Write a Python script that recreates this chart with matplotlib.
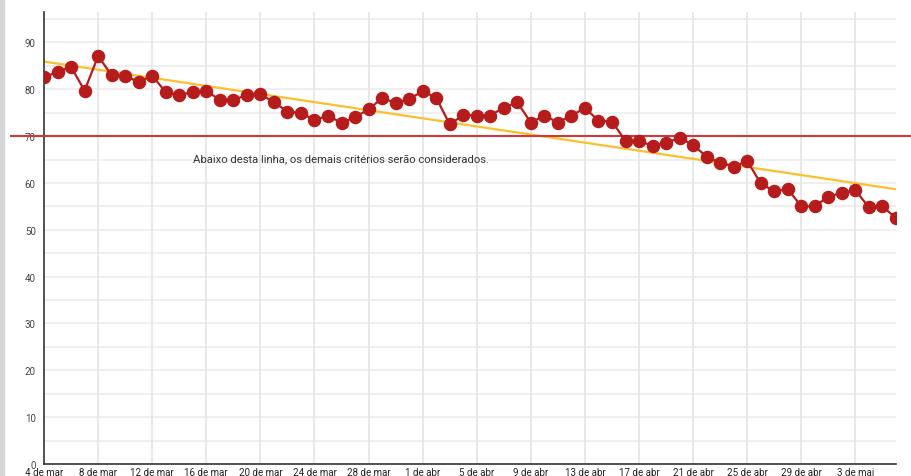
import numpy as np
import pandas as pd
import matplotlib
matplotlib.use("Agg")
import matplotlib.pyplot as plt
from matplotlib.patches import Rectangle

plt.rcParams["font.family"] = ["Roboto", "DejaVu Sans"]

# daily values, 4 de mar .. 6 de mai
dates = pd.date_range("2020-03-04", "2020-05-06", freq="D")
values = [
    82.6, 83.7, 84.8, 79.7, 87.1, 83.0, 82.8, 81.6, 82.9, 79.4,
    78.8, 79.4, 79.7, 77.7, 77.7, 78.8, 78.9, 77.3, 75.2, 75.0,
    73.4, 74.4, 72.8, 74.1, 75.7, 78.1, 77.1, 77.9, 79.6, 78.2,
    72.5, 74.5, 74.4, 74.4, 76.1, 77.2, 72.9, 74.4, 72.9, 74.4,
    76.0, 73.3, 73.1, 69.0, 69.0, 67.9, 68.6, 69.6, 68.1, 65.6,
    64.3, 63.5, 64.7, 59.9, 58.2, 58.7, 55.0, 55.0, 57.1, 57.9,
    58.4, 54.8, 55.0, 52.5,
]
tick_labels = [
    "4 de mar", "8 de mar", "12 de mar", "16 de mar", "20 de mar",
    "24 de mar", "28 de mar", "1 de abr", "5 de abr", "9 de abr",
    "13 de abr", "17 de abr", "21 de abr", "25 de abr", "29 de abr",
    "3 de mai",
]
threshold = 70
note = "Abaixo desta linha, os demais critérios serão considerados."

values = np.array(values)
xs = np.arange(len(dates))
ticks = xs[::4]

fig = plt.figure(figsize=(9.11, 4.77), dpi=100)
fig.patches.append(Rectangle((0, 0), 4 / 911, 1, transform=fig.transFigure,
                             color="#d6d6d6", zorder=0))
ax = fig.add_axes([44 / 911, 12 / 477, 852 / 911, 452 / 477])

# grid
for y in range(5, 100, 5):
    ax.axhline(y, color="#ebebeb", lw=1.1, zorder=0)
for t in ticks[1:]:
    ax.axvline(t, color="#e2e2e2", lw=1.1, zorder=0)

# trend (linear fit)
k, b = np.polyfit(xs, values, 1)
ax.plot(xs, k * xs + b, color="#fbc02d", lw=1.6, zorder=2)

# threshold line, runs past the plot area
ax.axhline(threshold, xmin=-33 / 852, xmax=1.02, color="#d0393b", lw=1.5,
           clip_on=False, zorder=3)
ax.text(11, 65.3, note, fontsize=8.1, color="#333333", va="center")

ax.plot(xs, values, color="#b71c1c", lw=1.6, marker="o", ms=8.7,
        markeredgecolor="#b71c1c", zorder=4)

ax.set_xlim(0, 63)
ax.set_ylim(0, 96.5)
ax.set_yticks(range(0, 100, 10))
ax.set_xticks(ticks)
ax.set_xticklabels(tick_labels)
ax.tick_params(axis="both", length=0, labelsize=7, labelcolor="#444444")
ax.tick_params(axis="x", pad=2.5, labelcolor="#222222")
ax.tick_params(axis="y", pad=6)

for s in ["top", "right"]:
    ax.spines[s].set_visible(False)
ax.spines["left"].set_color("#333333")
ax.spines["bottom"].set_color("#333333")
ax.spines["left"].set_linewidth(1.2)
ax.spines["bottom"].set_linewidth(1.2)

fig.savefig("out.png", dpi=100)
